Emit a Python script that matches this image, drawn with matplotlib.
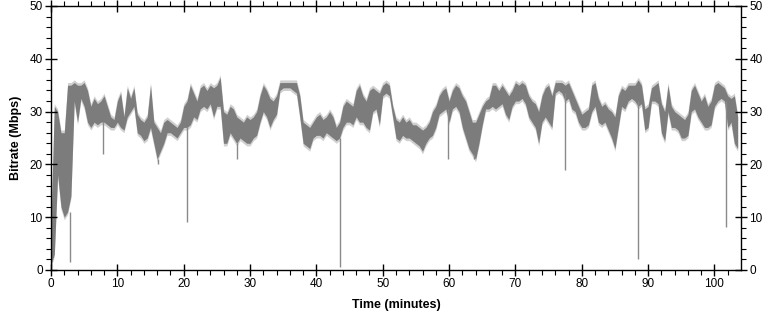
import numpy as np
import matplotlib.pyplot as plt

# ---- DATA: bitrate envelope per half minute ----
# time in minutes, 0 .. 103.5 step 0.5
t_min = np.arange(0, 104, 0.5)

# upper edge of the bitrate band (Mbps)
peak = [
    9, 31, 30, 26, 26, 35, 35, 35.5, 35, 35,
    35.5, 34, 31, 32.5, 31.5, 32, 33, 31, 29, 28.5,
    32, 33.5, 29, 34.5, 32.5, 34.5, 29.5, 28.5, 28, 29,
    35, 28, 27, 26, 28, 28.5, 28, 27.5, 27, 28,
    31, 32, 35, 33.5, 32, 34.5, 35, 34, 35, 34.5,
    35, 36.5, 30, 29.5, 31, 30.5, 29, 28.5, 28, 29,
    28.5, 29, 30, 33, 35, 34, 32.5, 32, 33, 35.5,
    35.5, 35.5, 35.5, 35.5, 35.5, 33, 28, 27.5, 27, 28,
    29, 29.5, 28.5, 29, 30, 29, 27, 28, 31, 32,
    31.5, 31, 34, 35, 33, 32, 34, 34.5, 34, 33.5,
    35, 35.5, 35, 31, 28.5, 28, 29, 28, 28.5, 27.5,
    27.5, 27, 26.5, 27, 28, 30, 31, 33, 34, 34.5,
    32, 34, 35, 34.5, 33, 32, 30, 28, 28, 29.5,
    31, 32, 32.5, 35, 35, 34, 35, 34, 33, 34,
    35.5, 35, 35.5, 35, 33, 32, 31.5, 30, 33, 34.5,
    35, 33, 35.5, 35.5, 35.5, 35, 35.5, 34, 32.5, 31,
    29.5, 30, 30.5, 35, 35.5, 32.5, 31, 31.5, 30.5, 30,
    29, 33, 34.5, 34, 35, 35, 35, 36, 35, 30.5,
    31, 34.5, 35, 35.5, 31.5, 30, 35, 31, 30, 29.5,
    29, 28.5, 29.5, 34, 35, 33.5, 32, 33, 31, 32,
    35, 35.5, 35, 34.5, 33, 32.5, 33, 29,
]

# lower edge of the bitrate band (Mbps)
trough = [
    1, 3, 18, 12, 10, 11, 14, 32, 28, 32.5,
    31, 28, 27, 28, 27.5, 28, 28, 27.5, 27, 27,
    28, 27, 26.5, 29, 30, 31, 26, 25.5, 24.5, 25,
    27, 24, 21, 22.5, 24, 26, 26, 25.5, 25, 26,
    27, 27, 27.5, 29, 28.5, 30.5, 31, 30.5, 31.5, 29,
    31, 31, 24, 24, 26, 25, 24, 25, 24.5, 24,
    24, 25, 25.5, 28, 30, 29, 27, 28.5, 29.5, 34,
    34.5, 34.5, 34.5, 34, 33.5, 29, 24, 23.5, 23, 25,
    25.5, 25.5, 25, 26, 25.5, 25, 24.5, 25, 27, 28,
    28, 27.5, 29, 28, 28, 27, 26.5, 30, 30.5, 27.5,
    33, 33.5, 33, 29, 25, 24.5, 25.5, 25, 25, 24.5,
    24, 23.5, 22.5, 24, 25, 25.5, 27, 29.5, 30, 30.5,
    28, 30.5, 31, 30, 27, 25, 23, 22, 21, 24,
    27.5, 30.5, 30.5, 31, 30.5, 31, 31.5, 29.5, 28.5, 31,
    32, 32, 32.5, 31.5, 29, 28, 27, 24, 28, 29,
    28, 27, 33.5, 34, 33.5, 32, 32.5, 30.5, 30, 28,
    27, 27, 27.5, 30, 31, 28, 27.5, 28, 26.5, 25,
    23, 27, 31, 30.5, 32, 32.5, 32, 31, 31.5, 26.5,
    27, 32, 32, 31.5, 26, 24.5, 30, 27, 27, 26.5,
    25, 25, 25.5, 30, 30.5, 29, 28, 27, 27, 27.5,
    31, 32, 32.5, 32, 27, 28, 24, 23,
]

# short drops / spikes: time (min), deepest value (Mbps)
spike_t = [0.5, 2.9, 7.8, 16.1, 20.5, 28.0, 43.6, 59.9, 63.7, 77.4, 88.4, 101.7]
spike_v = [3, 1.5, 22, 20, 9, 21, 0.6, 21, 21, 19, 2, 8.2]

peak = np.array(peak)
trough = np.array(trough)

plt.rcParams['font.family'] = ['Liberation Sans', 'DejaVu Sans']

# ---- PLOT ----
fig = plt.figure(figsize=(7.69, 3.2), dpi=100)
ax = fig.add_axes([51 / 769, 50 / 320, 690 / 769, 264 / 320])

# light halo, then the dense dark band
ax.fill_between(t_min, trough - 0.5, peak + 0.5, color='#d0d0d0', lw=0)
ax.fill_between(t_min, trough, peak, color='#7c7c7c', lw=0)

for st, sv in zip(spike_t, spike_v):
    i = min(int(st * 2), len(trough) - 1)
    ax.vlines(st, sv, trough[i], color='#8a8a8a', lw=1.0)

ax.set_xlim(0, 104)
ax.set_ylim(0, 50)
ax.set_xticks(np.arange(0, 101, 10))
ax.set_xticks(np.arange(0, 104, 2), minor=True)
ax.set_yticks(np.arange(0, 51, 10))
ax.set_yticks(np.arange(0, 51, 2), minor=True)

ax.tick_params(which='major', direction='inout', length=8, width=1,
               top=True, right=True, labelright=True, labelsize=8.5, pad=2)
ax.tick_params(which='minor', direction='out', length=3.5, width=0.8,
               top=True, right=True)

for s in ax.spines.values():
    s.set_linewidth(1)

ax.set_xlabel("Time (minutes)", fontsize=9, fontweight='bold', labelpad=6)
ax.set_ylabel("Bitrate (Mbps)", fontsize=9, fontweight='bold', labelpad=5)

fig.savefig("out.png", dpi=100)
